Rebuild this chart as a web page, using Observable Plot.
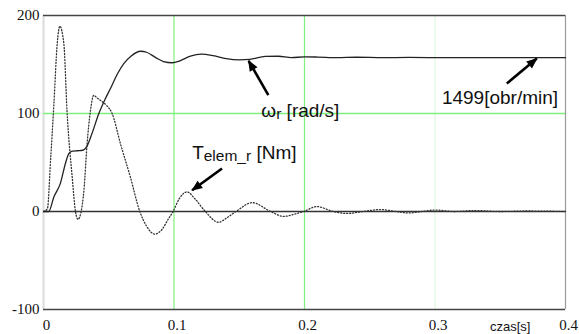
<!DOCTYPE html>
<html><head><meta charset="utf-8">
<script src="https://cdn.jsdelivr.net/npm/d3@7"></script>
<script src="https://cdn.jsdelivr.net/npm/@observablehq/plot@0.6"></script>
<style>body{margin:0;background:#fff}</style>
</head><body><div id="chart"></div>
<script>
// rotor speed ω_r [rad/s]
const omegaT = [0, 0.004, 0.008, 0.013, 0.0168, 0.0194, 0.022, 0.026, 0.030, 0.033, 0.037, 0.0424, 0.047, 0.0515, 0.0565, 0.0615, 0.067, 0.0743, 0.079, 0.086, 0.092, 0.0985, 0.105, 0.1126, 0.121, 0.13, 0.14, 0.15, 0.158, 0.17, 0.18, 0.19, 0.20, 0.21, 0.225, 0.24, 0.26, 0.28, 0.31, 0.34, 0.37, 0.4];
const omegaV = [0, 0, 15, 29, 49, 59, 61.5, 62, 62.5, 66, 79, 100, 114, 126, 140, 151, 158.5, 163.5, 162.5, 157, 153, 151.8, 154, 158.5, 160.5, 159, 156, 154.8, 155.2, 158.3, 158.4, 157, 157.8, 157.6, 157, 157.4, 157, 157.2, 157, 157.1, 157, 157];
// electromagnetic torque T_elem_r [Nm]
const torqueT = [0, 0.003, 0.0054, 0.0079, 0.0105, 0.0125, 0.0156, 0.018, 0.022, 0.0245, 0.0265, 0.0285, 0.031, 0.0334, 0.036, 0.0385, 0.041, 0.045, 0.0485, 0.0526, 0.059, 0.0666, 0.0738, 0.079, 0.0852, 0.091, 0.0955, 0.0993, 0.104, 0.110, 0.116, 0.124, 0.134, 0.141, 0.1475, 0.160, 0.174, 0.184, 0.193, 0.1993, 0.2095, 0.222, 0.2325, 0.245, 0.258, 0.27, 0.28, 0.29, 0.30, 0.315, 0.33, 0.35, 0.37, 0.4];
const torqueV = [0, 3, 52, 108, 171, 189, 171, 103, 35, 0, -8, -2, 22, 69, 103, 118.5, 116, 112, 108, 100, 69, 35, 0, -15, -23, -18, -8, 0, 13, 20, 13, 0, -11, -6, 0, 9, 0, -5, -2.5, 0, 5, 0, -2, 0, 2, 0, -1.5, 0, 1.5, 0, 1, 0, 0.5, 0];

const xTicks = [0, 0.1, 0.2, 0.3, 0.4];
const xTickLabels = ["0", "0.1", "0.2", "0.3", "0.4"];
const yTicks = [-100, 0, 100, 200];
const yTickLabels = ["-100", "0", "100", "200"];

const labelMain = ["ω", "T", "1499[obr/min]"];
const labelSub = ["r", "elem_r", ""];
const labelTail = [" [rad/s]", " [Nm]", ""];
const labelX = [0.1669, 0.1139, 0.3053];
const labelY = [96.2, 53.4, 110];

const arrowX1 = [0.1723, 0.355, 0.1368];
const arrowY1 = [118.7, 130.6, 43.9];
const arrowX2 = [0.1572, 0.378, 0.1139];
const arrowY2 = [153.7, 156.1, 21.7];

const axisTitle = ["czas[s]"];
const axisTitleX = [0.3576];
const axisTitleY = [-122];

const omega = omegaT.map((t, i) => ({t, v: omegaV[i]}));
const torque = torqueT.map((t, i) => ({t, v: torqueV[i]}));
const labels = labelMain.map((m, i) => ({x: labelX[i], y: labelY[i], text: m + labelSub[i] + labelTail[i], i}));
const arrows = arrowX1.map((x1, i) => ({x1, y1: arrowY1[i], x2: arrowX2[i], y2: arrowY2[i]}));
const titles = axisTitle.map((s, i) => ({s, x: axisTitleX[i], y: axisTitleY[i]}));

const green = "#7ff07f";
const plot = Plot.plot({
  width: 579, height: 334,
  marginLeft: 43, marginRight: 14, marginTop: 15, marginBottom: 25,
  x: {domain: [0, 0.4]},
  y: {domain: [-100, 200]},
  style: {background: "#fff", overflow: "visible"},
  marks: [
    Plot.ruleX([0], {stroke: "#dcdcdc", strokeWidth: 2}),
    Plot.ruleX([0.1, 0.2], {stroke: green, strokeWidth: 1.2}),
    Plot.ruleX([0.3], {stroke: "#d8f5d8", strokeWidth: 1}),
    Plot.ruleX([0.4], {stroke: "#9a9a9a", strokeWidth: 1.2}),
    Plot.ruleY([100], {stroke: green, strokeWidth: 1.3}),
    Plot.ruleY([200], {stroke: "#444", strokeWidth: 1.5}),
    Plot.ruleY([-100], {stroke: "#444", strokeWidth: 1.5}),
    Plot.line(torque, {x: "t", y: "v", curve: "monotone-x", stroke: "#333", strokeWidth: 1.3, strokeDasharray: "1 2"}),
    Plot.ruleY([0], {stroke: "#333", strokeWidth: 1.5}),
    Plot.line(omega, {x: "t", y: "v", curve: "monotone-x", stroke: "#222", strokeWidth: 1.3}),
    Plot.link(arrows, {x1: "x1", y1: "y1", x2: "x2", y2: "y2", stroke: "#000", strokeWidth: 2.6, markerEnd: "arrow"}),
    Plot.text(labels, {x: "x", y: "y", text: "text", textAnchor: "start", lineAnchor: "bottom", fontSize: 19, fill: "#111", fontFamily: "Liberation Sans, Arial, sans-serif", className: "ann"}),
    Plot.text(titles, {x: "x", y: "y", text: "s", textAnchor: "middle", lineAnchor: "bottom", fontSize: 13, fill: "#111", fontFamily: "Liberation Sans, Arial, sans-serif"}),
    Plot.axisY({ticks: yTicks, tickFormat: (d) => yTickLabels[yTicks.indexOf(d)], tickSize: 0, tickPadding: 4, fontSize: 15, fontFamily: "Liberation Serif, Times New Roman, serif", fill: "#111", label: null}),
    Plot.axisX({ticks: xTicks, tickFormat: (d) => xTickLabels[xTicks.indexOf(d)], tickSize: 0, tickPadding: 10, dx: 3, fontSize: 15, fontFamily: "Liberation Serif, Times New Roman, serif", fill: "#111", label: null})
  ]
});

// filled arrowheads
plot.querySelectorAll("marker").forEach((m) => {
  m.setAttribute("markerUnits", "userSpaceOnUse");
  m.setAttribute("markerWidth", "14");
  m.setAttribute("markerHeight", "14");
  m.setAttribute("viewBox", "-12 -7 14 14");
  m.setAttribute("fill", "#000");
  m.setAttribute("stroke", "none");
  const p = m.querySelector("path");
  if (p) p.setAttribute("d", "M-10,-4.5L1,0L-10,4.5Z");
});

// subscripts in labels
plot.querySelectorAll("g.ann text").forEach((el, i) => {
  el.textContent = "";
  const ns = "http://www.w3.org/2000/svg";
  const a = document.createElementNS(ns, "tspan");
  a.textContent = labelMain[i];
  el.appendChild(a);
  if (labelSub[i]) {
    const b = document.createElementNS(ns, "tspan");
    b.textContent = labelSub[i];
    b.setAttribute("font-size", "15.5");
    b.setAttribute("dy", "1.5");
    el.appendChild(b);
    const c = document.createElementNS(ns, "tspan");
    c.textContent = labelTail[i];
    c.setAttribute("dy", "-1.5");
    el.appendChild(c);
  }
});

document.getElementById("chart").appendChild(plot);
</script>
</body></html>
